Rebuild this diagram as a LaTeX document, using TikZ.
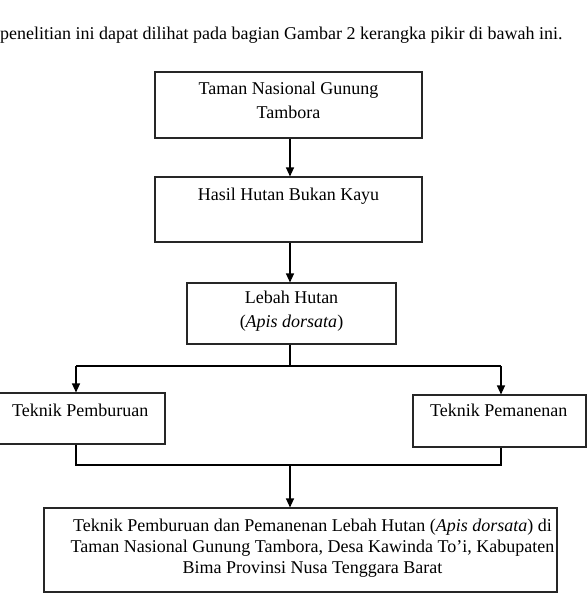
\documentclass[tikz,border=0pt]{standalone}
\usepackage{fontspec}
\setmainfont{Liberation Serif}
\usetikzlibrary{arrows.meta}
\begin{document}
\begin{tikzpicture}[x=1pt,y=-1pt,
  box/.style={draw=black!85, line width=1.1pt, inner sep=0pt, fill=none},
  txt/.style={inner sep=0pt, anchor=base, font=\fontsize{18}{22}\selectfont},
  conn/.style={draw=black, line width=1.1pt},
  arr/.style={conn, -{Triangle[length=9pt,width=8pt]}}]
\useasboundingbox (0,0) rectangle (588,594);
\fill[white] (0,0) rectangle (588,594);

\node[txt, anchor=base west] (intro) at (0,40) {penelitian ini dapat dilihat pada bagian Gambar 2 kerangka pikir di bawah ini.};

\node[box, minimum width=267pt, minimum height=66pt] (b1) at (288.5,105) {};
\node[box, minimum width=267pt, minimum height=65pt] (b2) at (288.5,209.5) {};
\node[box, minimum width=209pt, minimum height=61pt] (b3) at (291.5,313.5) {};
\node[box, minimum width=166pt, minimum height=51pt] (b4) at (82,418.5) {};
\node[box, minimum width=173pt, minimum height=52pt] (b5) at (499.5,421) {};
\node[box, minimum width=513pt, minimum height=84pt] (b6) at (300.5,550) {};

\node[txt] (t1a) at (288.5,94) {Taman Nasional Gunung};
\node[txt] (t1b) at (288.5,118) {Tambora};
\node[txt] (t2) at (288.5,200) {Hasil Hutan Bukan Kayu};
\node[txt] (t3a) at (291.5,303) {Lebah Hutan};
\node[txt] (t3b) at (291.5,327) {(\textit{Apis dorsata})};
\node[txt, anchor=base west] (t4) at (12,416) {Teknik Pemburuan};
\node[txt, anchor=base west] (t5) at (430,416) {Teknik Pemanenan};
\node[txt] (t6a) at (312.5,531) {Teknik Pemburuan dan Pemanenan Lebah Hutan (\textit{Apis dorsata}) di};
\node[txt] (t6b) at (312.5,552) {Taman Nasional Gunung Tambora, Desa Kawinda To’i, Kabupaten};
\node[txt] (t6c) at (312.5,573) {Bima Provinsi Nusa Tenggara Barat};

\coordinate (ax) at (290,0);
\coordinate (lx) at (76,0);
\coordinate (rx) at (501,0);
\coordinate (j1) at (290,366);
\coordinate (j2) at (290,465);
\coordinate (jl) at (76,366);
\coordinate (jr) at (501,366);
\coordinate (kl) at (76,465);
\coordinate (kr) at (501,465);

\draw[arr] (b1.south -| ax) -- (b2.north -| ax);
\draw[arr] (b2.south -| ax) -- (b3.north -| ax);
\draw[conn] (b3.south -| ax) -- (j1);
\draw[arr] (jl) -- (b4.north -| lx);
\draw[arr] (jr) -- (b5.north -| rx);
\draw[conn] (jl) -- (jr);
\draw[conn] (b4.south -| lx) -- (kl) -- (kr) -- (b5.south -| rx);
\draw[arr] (j2) -- (b6.north -| ax);
\end{tikzpicture}
\end{document}
